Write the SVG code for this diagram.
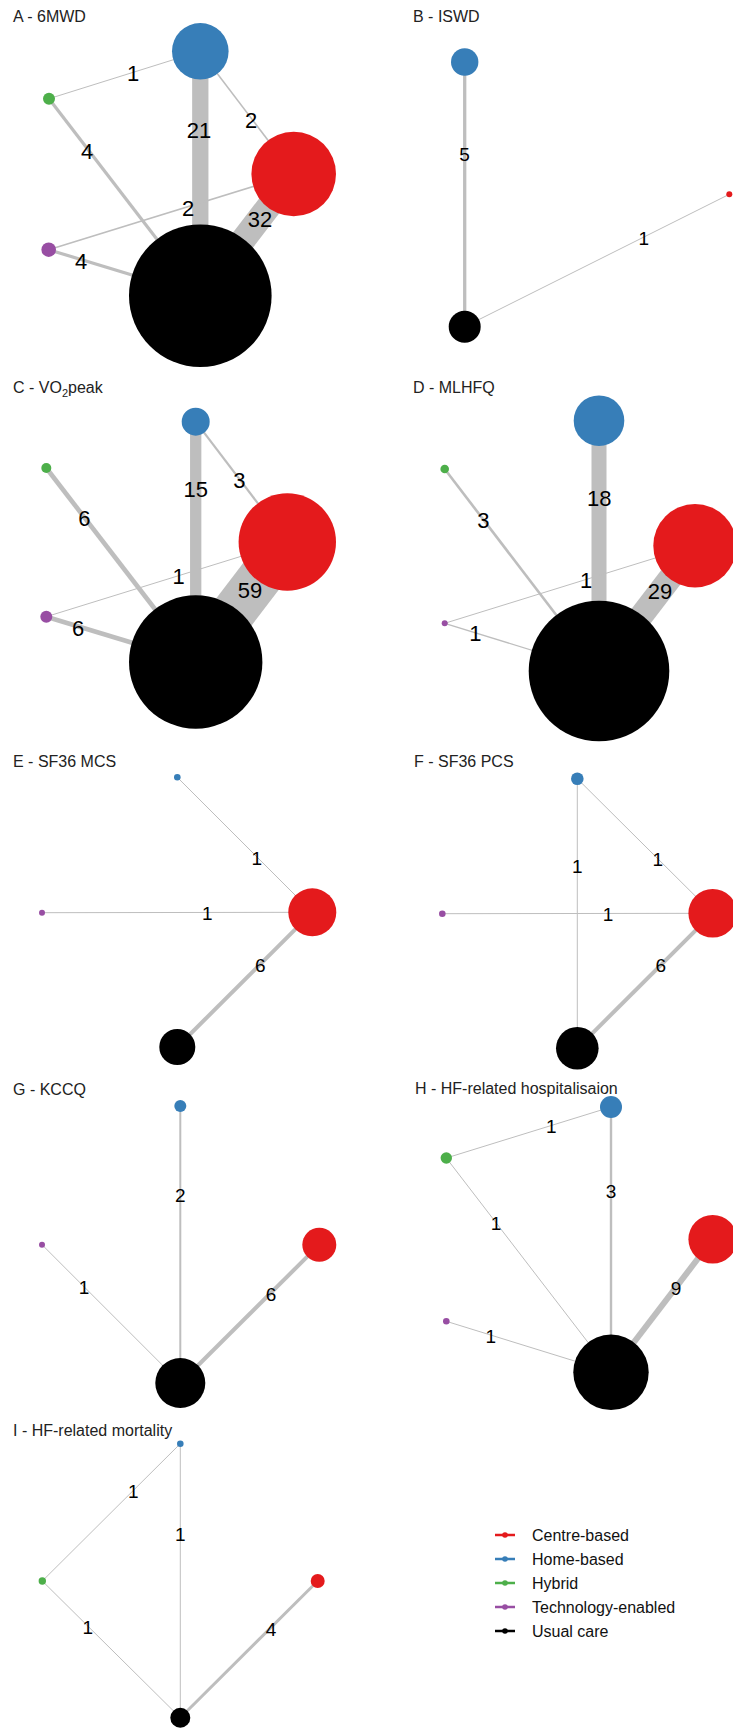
<svg xmlns="http://www.w3.org/2000/svg" width="733" height="1731" viewBox="0 0 733 1731">
<style>
.t{font-family:"Liberation Sans",Arial,sans-serif;font-size:16px;fill:#222}
.l{font-family:"Liberation Sans",Arial,sans-serif;font-size:22px;fill:#000;text-anchor:middle}
.s{font-family:"Liberation Sans",Arial,sans-serif;font-size:19px;fill:#000;text-anchor:middle}
.e{stroke:#bebebe;fill:none;stroke-linecap:butt}
.cb{fill:#E41A1C}.hb{fill:#377EB8}.hy{fill:#4DAF4A}.te{fill:#984EA3}.uc{fill:#000}
.lg{font-family:"Liberation Sans",Arial,sans-serif;font-size:16px;fill:#111}
</style>
<rect width="733" height="1731" fill="#fff"/>

<!-- Titles -->
<g id="titles">
<text class="t" x="13" y="22">A - 6MWD</text>
<text class="t" x="413" y="22">B - ISWD</text>
<text class="t" x="13" y="393">C - VO<tspan font-size="11" dy="4">2</tspan><tspan dy="-4">peak</tspan></text>
<text class="t" x="413" y="393">D - MLHFQ</text>
<text class="t" x="13" y="767">E - SF36 MCS</text>
<text class="t" x="414" y="767">F - SF36 PCS</text>
<text class="t" x="13" y="1095">G - KCCQ</text>
<text class="t" x="415" y="1094">H - HF-related hospitalisaion</text>
<text class="t" x="13" y="1436">I - HF-related mortality</text>
</g>

<!-- Connectors -->
<g id="connectors">
<!-- A -->
<line class="e" x1="200.3" y1="51.3" x2="49" y2="98.7" stroke-width="1"/>
<line class="e" x1="200.3" y1="51.3" x2="293.7" y2="174" stroke-width="1.6"/>
<line class="e" x1="200.3" y1="51.3" x2="200.3" y2="295.7" stroke-width="16.3"/>
<line class="e" x1="49" y1="98.7" x2="200.3" y2="295.7" stroke-width="3.2"/>
<line class="e" x1="48.7" y1="249.7" x2="293.7" y2="174" stroke-width="1.6"/>
<line class="e" x1="48.7" y1="249.7" x2="200.3" y2="295.7" stroke-width="3.2"/>
<line class="e" x1="293.7" y1="174" x2="200.3" y2="295.7" stroke-width="25"/>
<!-- B -->
<line class="e" x1="464.7" y1="62" x2="464.7" y2="326.7" stroke-width="3.3"/>
<line class="e" x1="464.7" y1="326.7" x2="729.3" y2="194.3" stroke-width="1"/>
<!-- C -->
<line class="e" x1="195.7" y1="421.7" x2="195.7" y2="662" stroke-width="11.3"/>
<line class="e" x1="195.7" y1="421.7" x2="287.3" y2="542" stroke-width="2.2"/>
<line class="e" x1="46.3" y1="468" x2="195.7" y2="662" stroke-width="4.6"/>
<line class="e" x1="46.3" y1="616.7" x2="287.3" y2="542" stroke-width="1"/>
<line class="e" x1="46.3" y1="616.7" x2="195.7" y2="662" stroke-width="4.6"/>
<line class="e" x1="287.3" y1="542" x2="195.7" y2="662" stroke-width="44.5"/>
<!-- D -->
<line class="e" x1="599" y1="420.7" x2="599" y2="671" stroke-width="15"/>
<line class="e" x1="444.7" y1="469" x2="599" y2="671" stroke-width="2.6"/>
<line class="e" x1="444.7" y1="623.3" x2="695" y2="545.7" stroke-width="1"/>
<line class="e" x1="444.7" y1="623.3" x2="599" y2="671" stroke-width="1.3"/>
<line class="e" x1="695" y1="545.7" x2="599" y2="671" stroke-width="24"/>
<!-- E -->
<line class="e" x1="177.3" y1="777.3" x2="312.3" y2="912.3" stroke-width="1"/>
<line class="e" x1="42" y1="912.7" x2="312.3" y2="912.3" stroke-width="1"/>
<line class="e" x1="312.3" y1="912.3" x2="177.3" y2="1047" stroke-width="4"/>
<!-- F -->
<line class="e" x1="577.3" y1="778.7" x2="577.3" y2="1048.3" stroke-width="1"/>
<line class="e" x1="577.3" y1="778.7" x2="712.7" y2="913.3" stroke-width="1"/>
<line class="e" x1="442.3" y1="913.7" x2="712.7" y2="913.3" stroke-width="1"/>
<line class="e" x1="712.7" y1="913.3" x2="577.3" y2="1048.3" stroke-width="4"/>
<!-- G -->
<line class="e" x1="180.3" y1="1106" x2="180.3" y2="1383" stroke-width="2"/>
<line class="e" x1="42" y1="1244.7" x2="180.3" y2="1383" stroke-width="1"/>
<line class="e" x1="319.3" y1="1244.7" x2="180.3" y2="1383" stroke-width="4"/>
<!-- H -->
<line class="e" x1="611" y1="1107" x2="446.3" y2="1158" stroke-width="1"/>
<line class="e" x1="611" y1="1107" x2="611" y2="1372.3" stroke-width="2.4"/>
<line class="e" x1="446.3" y1="1158" x2="611" y2="1372.3" stroke-width="1"/>
<line class="e" x1="446.3" y1="1321.3" x2="611" y2="1372.3" stroke-width="1"/>
<line class="e" x1="712.7" y1="1239.3" x2="611" y2="1372.3" stroke-width="6"/>
<!-- I -->
<line class="e" x1="180.3" y1="1443.7" x2="42.3" y2="1581" stroke-width="1"/>
<line class="e" x1="180.3" y1="1443.7" x2="180.3" y2="1717.7" stroke-width="1"/>
<line class="e" x1="42.3" y1="1581" x2="180.3" y2="1717.7" stroke-width="1"/>
<line class="e" x1="317.7" y1="1581" x2="180.3" y2="1717.7" stroke-width="3"/>
</g>

<!-- Nodes -->
<g id="panelA">
<circle id="A-home" class="hb" cx="200.3" cy="51.3" r="28.3"/>
<circle id="A-hybrid" class="hy" cx="49" cy="98.7" r="6"/>
<circle id="A-centre" class="cb" cx="293.7" cy="174" r="42.3"/>
<circle id="A-tech" class="te" cx="48.7" cy="249.7" r="7.3"/>
<circle id="A-usual" class="uc" cx="200.3" cy="295.7" r="71.3"/>
</g>
<g id="panelB">
<circle id="B-home" class="hb" cx="464.7" cy="62" r="13.7"/>
<circle id="B-centre" class="cb" cx="729.3" cy="194.3" r="3"/>
<circle id="B-usual" class="uc" cx="464.7" cy="326.7" r="16"/>
</g>
<g id="panelC">
<circle id="C-home" class="hb" cx="195.7" cy="421.7" r="14"/>
<circle id="C-hybrid" class="hy" cx="46.3" cy="468" r="5"/>
<circle id="C-centre" class="cb" cx="287.3" cy="542" r="48.7"/>
<circle id="C-tech" class="te" cx="46.3" cy="616.7" r="6"/>
<circle id="C-usual" class="uc" cx="195.7" cy="662" r="66.7"/>
</g>
<g id="panelD">
<circle id="D-home" class="hb" cx="599" cy="420.7" r="25.3"/>
<circle id="D-hybrid" class="hy" cx="444.7" cy="469" r="4.3"/>
<circle id="D-centre" class="cb" cx="695" cy="545.7" r="41.7"/>
<circle id="D-tech" class="te" cx="444.7" cy="623.3" r="3"/>
<circle id="D-usual" class="uc" cx="599" cy="671" r="70.3"/>
</g>
<g id="panelE">
<circle id="E-home" class="hb" cx="177.3" cy="777.3" r="3.3"/>
<circle id="E-tech" class="te" cx="42" cy="912.7" r="3"/>
<circle id="E-centre" class="cb" cx="312.3" cy="912.3" r="24"/>
<circle id="E-usual" class="uc" cx="177.3" cy="1047" r="18"/>
</g>
<g id="panelF">
<circle id="F-home" class="hb" cx="577.3" cy="778.7" r="6.3"/>
<circle id="F-tech" class="te" cx="442.3" cy="913.7" r="3.3"/>
<circle id="F-centre" class="cb" cx="712.7" cy="913.3" r="24.3"/>
<circle id="F-usual" class="uc" cx="577.3" cy="1048.3" r="21.3"/>
</g>
<g id="panelG">
<circle id="G-home" class="hb" cx="180.3" cy="1106" r="6"/>
<circle id="G-tech" class="te" cx="42" cy="1244.7" r="3"/>
<circle id="G-centre" class="cb" cx="319.3" cy="1244.7" r="17"/>
<circle id="G-usual" class="uc" cx="180.3" cy="1383" r="25"/>
</g>
<g id="panelH">
<circle id="H-home" class="hb" cx="611" cy="1107" r="11"/>
<circle id="H-hybrid" class="hy" cx="446.3" cy="1158" r="5.7"/>
<circle id="H-centre" class="cb" cx="712.7" cy="1239.3" r="24.3"/>
<circle id="H-tech" class="te" cx="446.3" cy="1321.3" r="3.3"/>
<circle id="H-usual" class="uc" cx="611" cy="1372.3" r="37.7"/>
</g>
<g id="panelI">
<circle id="I-home" class="hb" cx="180.3" cy="1443.7" r="3.3"/>
<circle id="I-hybrid" class="hy" cx="42.3" cy="1581" r="3.7"/>
<circle id="I-centre" class="cb" cx="317.7" cy="1581" r="7"/>
<circle id="I-usual" class="uc" cx="180.3" cy="1717.7" r="10"/>
</g>

<!-- Edge labels -->
<g id="edge-labels">
<text class="l" x="133" y="81">1</text>
<text class="l" x="199" y="138">21</text>
<text class="l" x="251" y="128">2</text>
<text class="l" x="87" y="159">4</text>
<text class="l" x="188" y="216">2</text>
<text class="l" x="260" y="227">32</text>
<text class="l" x="81" y="269">4</text>

<text class="s" x="464.5" y="161">5</text>
<text class="s" x="643.7" y="244.5">1</text>

<text class="l" x="195.7" y="497">15</text>
<text class="l" x="239.3" y="488">3</text>
<text class="l" x="84.3" y="525.5">6</text>
<text class="l" x="178.7" y="583.5">1</text>
<text class="l" x="250" y="598">59</text>
<text class="l" x="78" y="636">6</text>

<text class="l" x="599.3" y="505.5">18</text>
<text class="l" x="483.3" y="528">3</text>
<text class="l" x="586" y="588">1</text>
<text class="l" x="475.3" y="641">1</text>
<text class="l" x="660" y="599">29</text>

<text class="s" x="256.7" y="864.5">1</text>
<text class="s" x="207.3" y="920">1</text>
<text class="s" x="260.3" y="972">6</text>

<text class="s" x="577.3" y="873">1</text>
<text class="s" x="657.7" y="866">1</text>
<text class="s" x="608" y="921">1</text>
<text class="s" x="660.7" y="972">6</text>

<text class="s" x="180.3" y="1202">2</text>
<text class="s" x="84" y="1294">1</text>
<text class="s" x="271" y="1301">6</text>

<text class="s" x="551.3" y="1133">1</text>
<text class="s" x="611" y="1197.5">3</text>
<text class="s" x="496" y="1229.5">1</text>
<text class="s" x="490.7" y="1343">1</text>
<text class="s" x="676" y="1294.5">9</text>

<text class="s" x="133.3" y="1497.5">1</text>
<text class="s" x="180.3" y="1541">1</text>
<text class="s" x="87.7" y="1633.5">1</text>
<text class="s" x="271" y="1636">4</text>
</g>

<!-- Legend -->
<g id="legend">
<g stroke-width="2.5">
<line x1="495" y1="1535" x2="515" y2="1535" stroke="#E41A1C"/>
<line x1="495" y1="1559" x2="515" y2="1559" stroke="#377EB8"/>
<line x1="495" y1="1583" x2="515" y2="1583" stroke="#4DAF4A"/>
<line x1="495" y1="1607" x2="515" y2="1607" stroke="#984EA3"/>
<line x1="495" y1="1631" x2="515" y2="1631" stroke="#000"/>
</g>
<circle class="cb" cx="505" cy="1535" r="2.8"/>
<circle class="hb" cx="505" cy="1559" r="2.8"/>
<circle class="hy" cx="505" cy="1583" r="2.8"/>
<circle class="te" cx="505" cy="1607" r="2.8"/>
<circle class="uc" cx="505" cy="1631" r="2.8"/>
<text class="lg" x="532" y="1541">Centre-based</text>
<text class="lg" x="532" y="1565">Home-based</text>
<text class="lg" x="532" y="1589">Hybrid</text>
<text class="lg" x="532" y="1613">Technology-enabled</text>
<text class="lg" x="532" y="1637">Usual care</text>
</g>
</svg>
